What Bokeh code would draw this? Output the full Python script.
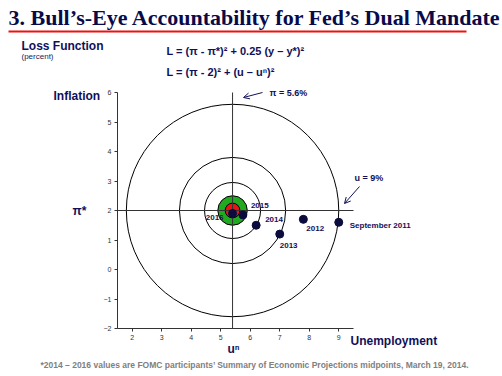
from bokeh.plotting import figure
from bokeh.models import (Label, LabelSet, Arrow, OpenHead, ColumnDataSource,
                          FixedTicker, Range1d, LinearAxis)
from bokeh.core.properties import value
from bokeh.embed import file_html
from bokeh.resources import INLINE

# ---- data ----
periods = ["September 2011", "2012", "2013", "2014", "2015", "2016"]
unemployment = [9.0, 7.8, 7.0, 6.2, 5.75, 5.4]
inflation = [1.6, 1.7, 1.2, 1.5, 1.85, 1.9]
u_natural = 5.4
pi_target = 2.0
ring_radii = [3.6, 1.8, 0.95]
green_radius = 0.5
red_radius = 0.25
x_ticks = [2, 3, 4, 5, 6, 7, 8, 9]
y_ticks = [-2, -1, 0, 1, 2, 3, 4, 5, 6]
x_lo, x_hi = 1.5, 9.5
y_lo, y_hi = -2.0, 6.0

NAVY = "#10105a"
DOT = "#0b0b3d"
SANS = "Liberation Sans"

W, H = 502, 376
FL, FT, FW, FH = 117, 92, 236, 236   # chart area (axes box) in figure pixels
sx = (x_hi - x_lo) / FW
sy = (y_hi - y_lo) / FH

p = figure(width=W, height=H, output_backend="svg", toolbar_location=None,
           x_range=Range1d(x_lo - FL * sx, x_lo + (W - FL) * sx),
           y_range=Range1d(y_hi - (H - FT) * sy, y_hi + FT * sy),
           x_axis_location=None, y_axis_location=None,
           min_border=0)
p.outline_line_color = None
p.grid.visible = False
p.background_fill_color = "white"
p.border_fill_color = "white"

xax = LinearAxis(fixed_location=y_lo, bounds=(x_lo, x_hi),
                 ticker=FixedTicker(ticks=x_ticks))
yax = LinearAxis(fixed_location=x_lo, bounds=(y_lo, y_hi),
                 ticker=FixedTicker(ticks=y_ticks))
for ax in (xax, yax):
    ax.axis_line_color = "#333333"
    ax.major_tick_line_color = "#333333"
    ax.major_tick_in = 0
    ax.major_tick_out = 3
    ax.minor_tick_line_color = None
    ax.major_label_text_font = SANS
    ax.major_label_text_font_size = "7px"
    ax.major_label_text_color = "#333333"
    ax.major_label_standoff = 3
p.add_layout(xax, "below")
p.add_layout(yax, "left")


def at(xr, yr):
    """picture pixel -> data coordinates"""
    return x_lo + (xr - FL) * sx, y_hi - (yr - FT) * sy


# ---- bull's-eye rings ----
for r in ring_radii:
    p.circle(x=[u_natural], y=[pi_target], radius=r, fill_color=None,
             line_color="black", line_width=1)
p.circle(x=[u_natural], y=[pi_target], radius=green_radius, fill_color="#1faa1f",
         line_color="black", line_width=1)
p.circle(x=[u_natural], y=[pi_target], radius=red_radius, fill_color="#ee1111",
         line_color="black", line_width=1)

# crosshair
p.segment(x0=[x_lo, u_natural], y0=[pi_target, y_lo],
          x1=[x_hi, u_natural], y1=[pi_target, y_hi],
          line_color="#333333", line_width=1)

# outcomes
src = ColumnDataSource(dict(
    u=unemployment, pi=inflation, lab=periods,
    xo=[11, 3, 0, 9, 8, -9],
    yo=[-3, -9, -11, 6, 9, -4],
    al=["left", "left", "left", "left", "left", "right"],
))
p.scatter(x="u", y="pi", source=src, size=8, fill_color=DOT, line_color=DOT)
p.add_layout(LabelSet(x="u", y="pi", text="lab", source=src, x_offset="xo",
                      y_offset="yo", text_align="al",
                      text_baseline=value("middle"),
                      text_font=value(SANS), text_font_size=value("8px"),
                      text_font_style=value("bold"), text_color=value(NAVY)))


def lab(xr, yr, text, size, bold=True, color=NAVY, font=SANS, align="left",
        baseline="middle"):
    x, y = at(xr, yr)
    p.add_layout(Label(x=x, y=y, text=text, text_font=font,
                       text_font_size=f"{size}px",
                       text_font_style="bold" if bold else "normal",
                       text_color=color, text_align=align,
                       text_baseline=baseline))


def arrow(x0r, y0r, x1r, y1r, color=NAVY, width=1, head=True):
    xs, ys = at(x0r, y0r)
    xe, ye = at(x1r, y1r)
    p.add_layout(Arrow(x_start=xs, y_start=ys, x_end=xe, y_end=ye,
                       line_color=color, line_width=width,
                       end=OpenHead(size=6, line_color=color, line_width=1) if head else None))


# title and rule
lab(8, 17, "3. Bull\u2019s-Eye Accountability for Fed\u2019s Dual Mandate", 22,
    font="Liberation Serif", color="#0a0a4a", baseline="middle")
arrow(8, 31, 466, 31, color="#ee1111", width=2, head=False)

lab(21, 45, "Loss Function", 12)
lab(21, 55.5, "(percent)", 8, bold=False, color="#1a1a5a")
lab(166, 50.5, "L = (\u03c0  - \u03c0*)\u00b2 + 0.25 (y \u2013 y*)\u00b2", 11)
lab(166, 71.5, "L = (\u03c0  - 2)\u00b2 + (u \u2013 u\u207f)\u00b2", 11)

lab(53, 95, "Inflation", 12)
lab(72, 210, "\u03c0*", 12)
lab(233, 348, "u\u207f", 12, align="center")
lab(350, 340, "Unemployment", 12)

lab(269, 92, "\u03c0 = 5.6%", 9)
arrow(262, 92, 243, 97)
lab(354, 177, "u = 9%", 9)
arrow(359, 186, 344, 203)

lab(40, 364, "*2014 \u2013 2016 values are FOMC participants\u2019  Summary of Economic  Projections  midpoints,  March 19, 2014.",
    8.5, color="#808080")

open("out.html", "w").write(file_html(p, INLINE))
